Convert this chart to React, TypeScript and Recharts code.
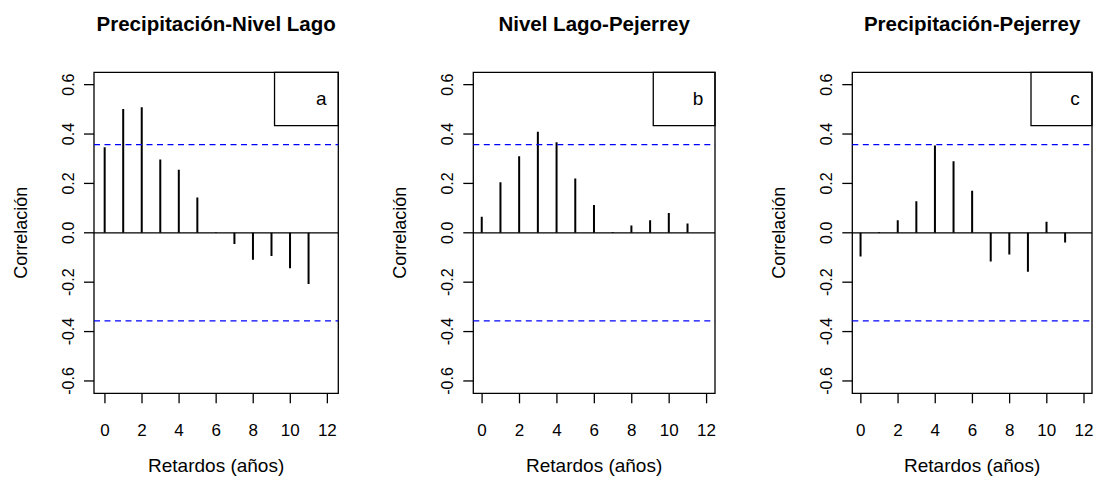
import React from 'react';
import {
  ComposedChart, Bar, XAxis, YAxis, ReferenceLine, ReferenceArea, Label,
} from 'recharts';

// lags (years) and cross-correlations
const lags = [0, 1, 2, 3, 4, 5, 6, 7, 8, 9, 10, 11];
const precipNivel = [0.346, 0.501, 0.508, 0.297, 0.255, 0.143, 0.002, -0.045, -0.109, -0.094, -0.144, -0.207];
const nivelPejerrey = [0.065, 0.205, 0.310, 0.409, 0.367, 0.220, 0.113, 0.003, 0.030, 0.051, 0.080, 0.038];
const precipPejerrey = [-0.096, 0.003, 0.051, 0.128, 0.354, 0.290, 0.170, -0.116, -0.088, -0.158, 0.045, -0.039];

const titles = ['Precipitación-Nivel Lago', 'Nivel Lago-Pejerrey', 'Precipitación-Pejerrey'];
const letters = ['a', 'b', 'c'];
const xTicks = [0, 2, 4, 6, 8, 10, 12];
const yTicks = [-0.6, -0.4, -0.2, 0, 0.2, 0.4, 0.6];
const ciLimit = 0.357;

const FONT = '"Liberation Sans", Arial, Helvetica, sans-serif';
const Y_DOMAIN: [number, number] = [-0.65, 0.65];

// chart placement (plot box 94..338, 473..715, 852..1092)
const panels = [
  { values: precipNivel, left: 0, mLeft: 34, mRight: 27.7, xDomain: [-0.59, 12.59] },
  { values: nivelPejerrey, left: 365, mLeft: 48.3, mRight: 16, xDomain: [-0.47, 12.45] },
  { values: precipPejerrey, left: 730, mLeft: 62.3, mRight: 4, xDomain: [-0.46, 12.43] },
];

const CHART_W = 366;
const CHART_H = 481;

function YTick(props: any) {
  const { x, y, payload } = props;
  return (
    <text x={x} y={y} transform={`rotate(-90 ${x} ${y})`} textAnchor="middle"
      fontSize={16} fontFamily={FONT} fill="#000">
      {Number(payload.value).toFixed(1)}
    </text>
  );
}

function YTitle(props: any) {
  const { x, width, y, height } = props.viewBox;
  const cx = x + width - 67;
  const cy = y + height / 2;
  return (
    <text x={cx} y={cy} transform={`rotate(-90 ${cx} ${cy})`} textAnchor="middle"
      fontSize={18} fontFamily={FONT} fill="#000">Correlación</text>
  );
}

function XTitle(props: any) {
  const { x, width } = props.viewBox;
  return (
    <text x={x + width / 2} y={472} textAnchor="middle" fontSize={19} fontFamily={FONT} fill="#000">
      Retardos (años)
    </text>
  );
}

function Panel({ idx }: { idx: number }) {
  const p = panels[idx];
  const data = lags.map((lag, i) => ({ lag, r: p.values[i] }));
  const plotLeft = p.left + p.mLeft + 60;
  const plotRight = p.left + CHART_W - p.mRight;
  const letterLabel = (lp: any) => {
    const vb = lp.viewBox;
    return (
      <text x={vb.x + vb.width - 17} y={vb.y + vb.height / 2 + 6} textAnchor="middle"
        fontSize={19} fontFamily={FONT} fill="#000">{letters[idx]}</text>
    );
  };
  return (
    <>
      <div style={{
        position: 'absolute', left: plotLeft - 20, width: plotRight - plotLeft + 40, top: 12,
        textAlign: 'center', fontFamily: FONT, fontWeight: 'bold', fontSize: 20.5, color: '#000',
        whiteSpace: 'nowrap',
      }}>{titles[idx]}</div>
      <div style={{ position: 'absolute', left: p.left, top: 0 }}>
        <ComposedChart width={CHART_W} height={CHART_H} data={data}
          margin={{ top: 72.3, right: p.mRight, bottom: 57.7, left: p.mLeft }}>
          <XAxis dataKey="lag" type="number" domain={p.xDomain} ticks={xTicks} allowDataOverflow
            axisLine={false} tickSize={10} tickMargin={21} height={30}
            tickLine={{ stroke: '#000', strokeWidth: 1.3 }}
            tick={{ fill: '#000', fontSize: 17, fontFamily: FONT }}>
            <Label content={XTitle} />
          </XAxis>
          <YAxis type="number" domain={Y_DOMAIN} ticks={yTicks} allowDataOverflow width={60}
            axisLine={false} tickSize={10} tickMargin={10}
            tickLine={{ stroke: '#000', strokeWidth: 1.3 }} tick={<YTick />}>
            <Label content={YTitle} />
          </YAxis>
          <ReferenceLine y={0} stroke="#000" strokeWidth={1.3} />
          <ReferenceLine y={ciLimit} stroke="#0000ff" strokeWidth={1.3} strokeDasharray="6 4.5" />
          <ReferenceLine y={-ciLimit} stroke="#0000ff" strokeWidth={1.3} strokeDasharray="6 4.5" />
          <Bar dataKey="r" fill="#000" barSize={2} isAnimationActive={false} />
          <ReferenceArea x1={9.15} x2={p.xDomain[1]} y1={0.434} y2={Y_DOMAIN[1]}
            fill="none" stroke="#000" strokeWidth={1.3} ifOverflow="visible" label={letterLabel} />
          <ReferenceArea x1={p.xDomain[0]} x2={p.xDomain[1]} y1={Y_DOMAIN[0]} y2={Y_DOMAIN[1]}
            fill="none" stroke="#000" strokeWidth={1.3} ifOverflow="visible" />
        </ComposedChart>
      </div>
    </>
  );
}

export default function App() {
  return (
    <div style={{ position: 'absolute', left: 0, top: 0, width: 1096, height: 481, background: '#fff', overflow: 'hidden' }}>
      <Panel idx={0} />
      <Panel idx={1} />
      <Panel idx={2} />
    </div>
  );
}
